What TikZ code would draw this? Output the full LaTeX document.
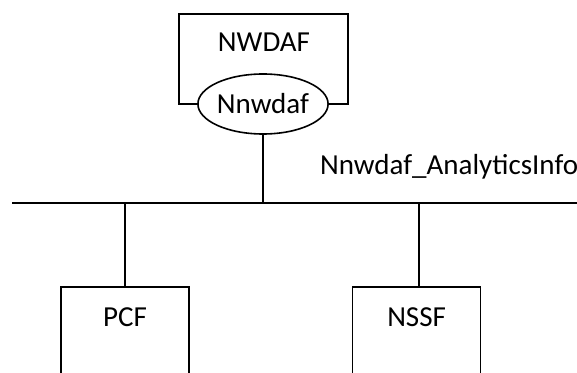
\documentclass[tikz,border=0pt]{standalone}
\usepackage{fontspec}
\setmainfont{Carlito}
\usepackage{tikz}
\usetikzlibrary{positioning}
\usetikzlibrary{shapes.geometric}

\begin{document}
\begin{tikzpicture}[x=1pt, y=1pt, line width=1.6pt,
    every node/.style={font=\fontsize{29}{31}\selectfont},
    nfbox/.style={draw, inner sep=0pt, minimum width=128pt, text height=40pt, text depth=100pt}]
    \useasboundingbox (0,0) rectangle (577,372);
    % service-based bus
    \coordinate (busL) at (12,169);
    \coordinate (busR) at (577,169);
    \draw (busL) -- (busR);
    % NWDAF and its service interface
    \node[draw, ellipse, inner sep=0pt, minimum width=130pt, minimum height=60pt] (nnwdaf) at (263,268) {Nnwdaf};
    \node[anchor=base] (nwdaf) at (264,320) {NWDAF};
    \draw (nnwdaf.west) -| (179,358) -| (348,268) -- (nnwdaf.east);
    \draw (nnwdaf.south) -- (nnwdaf.south |- busL);
    \node[anchor=base west] (svc) at (316,197) {Nnwdaf\_AnalyticsInfo};
    % consumers
    \node[nfbox, anchor=north] (pcf) at (125,86) {PCF};
    \node[nfbox, right=162pt of pcf] (nssf) {NSSF};
    \draw (pcf.north) -- (pcf.north |- busL);
    \draw ([xshift=2.5pt]nssf.north) -- ([xshift=2.5pt]nssf.north |- busL);
\end{tikzpicture}
\end{document}
